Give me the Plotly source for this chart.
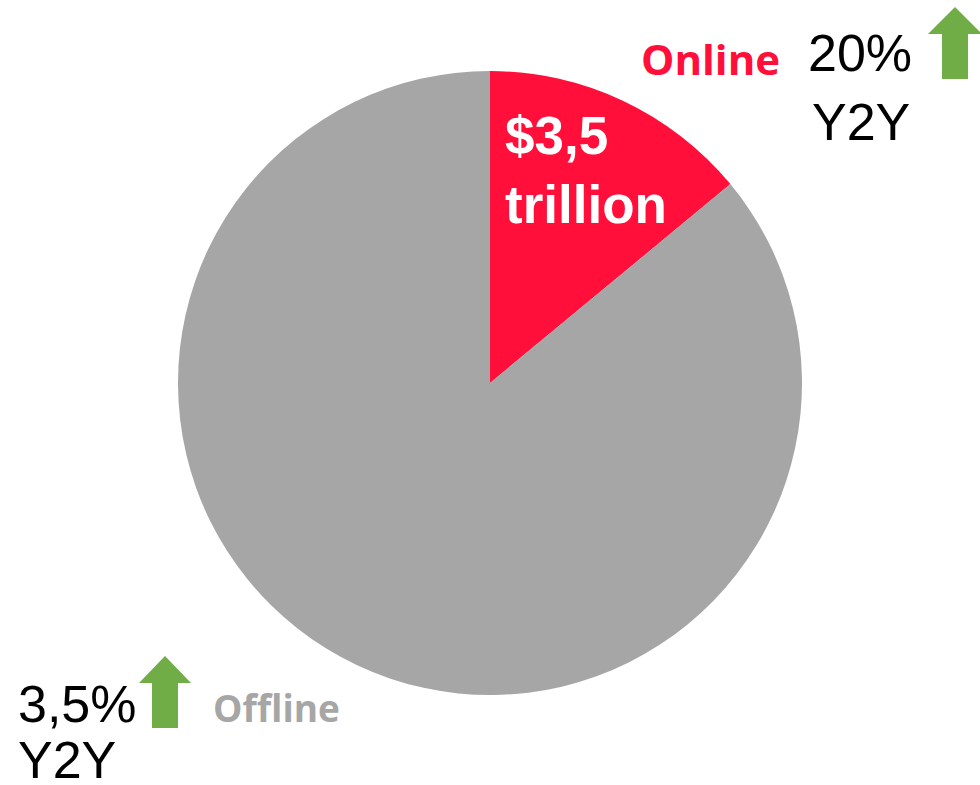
import plotly.graph_objects as go

# Data
labels = ["Online", "Offline"]
values = [3.5, 21.5]          # trillion USD
colors = ["#FF0F3A", "#A6A6A6"]
online_value_label = "$3,5<br>trillion"
growth_online = ["20%", "Y2Y"]
growth_offline = ["3,5%", "Y2Y"]

W, H = 980, 785

def px(x):
    return x / W

def py(y):
    return 1 - y / H

fig = go.Figure()
fig.add_trace(go.Pie(
    labels=labels, values=values, sort=False, direction="clockwise", rotation=0,
    marker=dict(colors=colors, line=dict(width=0)),
    textinfo="none", hoverinfo="label+value", showlegend=False,
    domain=dict(x=[px(490 - 312), px(490 + 312)], y=[py(383 + 312), py(383 - 312)]),
))

def arrow(cx, top, headbase, bottom, headhalf, shafthalf, color="#70AD47"):
    pts = [(cx, top), (cx + headhalf, headbase), (cx + shafthalf, headbase),
           (cx + shafthalf, bottom), (cx - shafthalf, bottom), (cx - shafthalf, headbase),
           (cx - headhalf, headbase)]
    path = "M " + " L ".join(f"{px(x):.5f},{py(y):.5f}" for x, y in pts) + " Z"
    return dict(type="path", xref="paper", yref="paper", path=path,
                fillcolor=color, line=dict(width=0))

shapes = [arrow(955, 7, 34, 79, 27, 13), arrow(165, 656, 683, 728, 26, 13)]

big = dict(family="Liberation Sans", size=52, color="black")

ann = []
ann.append(dict(text=online_value_label, x=px(503), y=py(104), xanchor="left", yanchor="top",
                align="left", showarrow=False,
                font=dict(family="Liberation Sans", size=53, color="white", weight="bold")))
ann.append(dict(text=labels[0], x=px(639), y=py(28), xanchor="left", yanchor="top",
                showarrow=False,
                font=dict(family="Open Sans", size=42, color=colors[0], weight="bold")))
ann.append(dict(text=growth_online[0], x=px(806), y=py(22), xanchor="left", yanchor="top",
                showarrow=False, font=big))
ann.append(dict(text=growth_online[1], x=px(810), y=py(91), xanchor="left", yanchor="top",
                showarrow=False, font=big))
ann.append(dict(text=growth_offline[0], x=px(16), y=py(673), xanchor="left", yanchor="top",
                showarrow=False, font=big))
ann.append(dict(text=growth_offline[1], x=px(16), y=py(729), xanchor="left", yanchor="top",
                showarrow=False, font=big))
ann.append(dict(text=labels[1], x=px(211), y=py(680), xanchor="left", yanchor="top",
                showarrow=False,
                font=dict(family="Open Sans", size=37, color=colors[1], weight="bold")))

fig.update_layout(width=W, height=H, margin=dict(l=0, r=0, t=0, b=0),
                  paper_bgcolor="white", plot_bgcolor="white",
                  shapes=shapes, annotations=ann)
fig.write_html("out.html", config={"displayModeBar": False},
               post_script="document.body.style.margin='0';")
